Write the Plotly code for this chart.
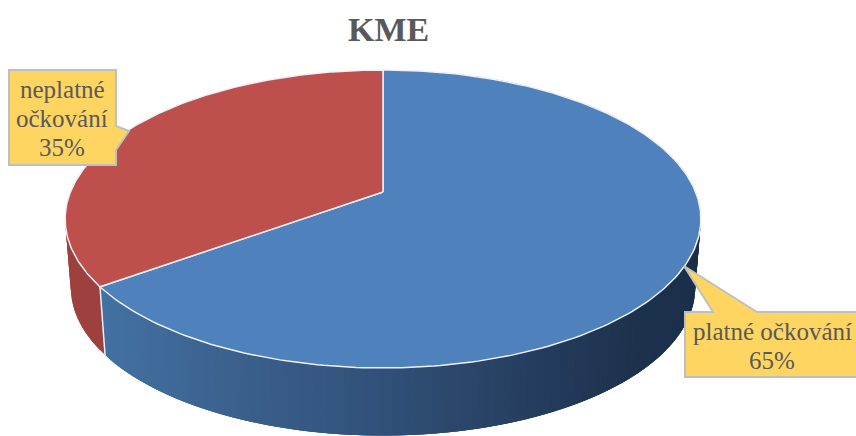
import numpy as np
import plotly.graph_objects as go

categories = ["platné očkování", "neplatné očkování"]
values = [65, 35]
title = "KME"

W, H = 856, 436
FONT = "Liberation Serif"
TXT = "#595959"
TOP = {"platné očkování": "#4f81bd", "neplatné očkování": "#bd4f4c"}
RED_SIDE = "#9e403e"
STOPS = [(95, (66, 114, 163)), (250, (58, 94, 138)), (383, (48, 80, 120)),
         (520, (38, 63, 96)), (640, (28, 49, 76)), (710, (27, 47, 73))]
EDGE = "#eef1f5"

# perspective projection of the disc: top rim and bottom rim
CX, CY, A, B, K = 383, 192, 144.1, 312.6, 0.181
CYB, AB, BB = 261, 143, 307


def project(theta, cy, a, b):
    u, v = np.sin(theta), np.cos(theta)
    d = 1 + K * v
    return CX + b * u / d, cy - a * v / d


def col(x):
    xs = [s[0] for s in STOPS]
    c = [np.interp(x, xs, [s[1][i] for s in STOPS]) for i in range(3)]
    return "rgb(%d,%d,%d)" % tuple(int(round(i)) for i in c)


fig = go.Figure()
total = sum(values)
start = 0.0
spans = []
for name, val in zip(categories, values):
    end = start + 2 * np.pi * val / total
    spans.append((name, start, end))
    start = end


def add(xs, ys, fill, line=None, lw=0.0):
    fig.add_trace(go.Scatter(
        x=xs, y=ys, mode="lines", fill="toself", fillcolor=fill,
        line=dict(color=line or fill, width=lw), hoverinfo="skip", showlegend=False))


def strip(t0, t1, color):
    seg = np.linspace(t0, t1, 4)
    xt, yt = project(seg, CY, A, B)
    xb, yb = project(seg[::-1], CYB, AB, BB)
    add(np.r_[xt, xb, xt[0]], np.r_[yt, yb, yt[0]], color)


# side walls: strips painted along the rim, each running under the next
for name, s, e in spans:
    if name == categories[0]:
        s2 = max(s, 0.35)
        ts = np.linspace(e, s2, 241)
        dt = ts[0] - ts[1]
        for t0 in ts[:-1]:
            strip(t0, max(t0 - 3 * dt, s2), col(project(t0, CY, A, B)[0]))
    else:
        e2 = min(e, 2 * np.pi - 0.35)
        ts = np.linspace(s, e2, 61)
        dt = ts[1] - ts[0]
        for t0 in ts[:-1]:
            strip(t0, min(t0 + 2 * dt, e2), RED_SIDE)

# edge between the two walls
bt = spans[0][2]
xa, ya = project(bt, CY, A, B)
xb, yb = project(bt, CYB, AB, BB)
fig.add_trace(go.Scatter(x=[xa, xb], y=[ya, yb], mode="lines",
                         line=dict(color=EDGE, width=1.5), hoverinfo="skip", showlegend=False))

# top faces
for name, s, e in spans:
    ts = np.linspace(s, e, 240)
    x, y = project(ts, CY, A, B)
    xs = np.concatenate([[CX], x, [CX]])
    ys = np.concatenate([[CY], y, [CY]])
    add(xs, ys, TOP[name], EDGE, 1.5)

shapes = [
    dict(type="path", layer="above",
         path="M9,70 L116,70 L116,126 L129,131 L116,150 L116,165 L9,165 Z",
         fillcolor="#ffd561", line=dict(color="#bfbfbf", width=2)),
    dict(type="path", layer="above",
         path="M685,312 L713,312 L684,266 L757,312 L860,312 L860,377 L685,377 Z",
         fillcolor="#ffd561", line=dict(color="#bfbfbf", width=2)),
]

ann = [dict(x=388, y=29, text="<b>%s</b>" % title, font=dict(size=34, color=TXT, family=FONT))]
for txt, x, y in [("neplatné", 62, 89), ("očkování", 62, 118), ("%d%%" % values[1], 62, 147),
                  ("platné očkování", 772, 331), ("%d%%" % values[0], 772, 360)]:
    ann.append(dict(x=x, y=y, text=txt, font=dict(size=25, color=TXT, family=FONT)))
for a in ann:
    a.update(xref="x", yref="y", showarrow=False, xanchor="center", yanchor="middle")

fig.update_layout(
    width=W, height=H, margin=dict(l=0, r=0, t=0, b=0),
    paper_bgcolor="white", plot_bgcolor="white", showlegend=False,
    xaxis=dict(range=[0, W], visible=False, fixedrange=True),
    yaxis=dict(range=[H, 0], visible=False, fixedrange=True),
    shapes=shapes, annotations=ann,
)
fig.write_html("out.html", config={"displayModeBar": False},
               post_script="document.body.style.margin='0';document.body.style.overflow='hidden';")
